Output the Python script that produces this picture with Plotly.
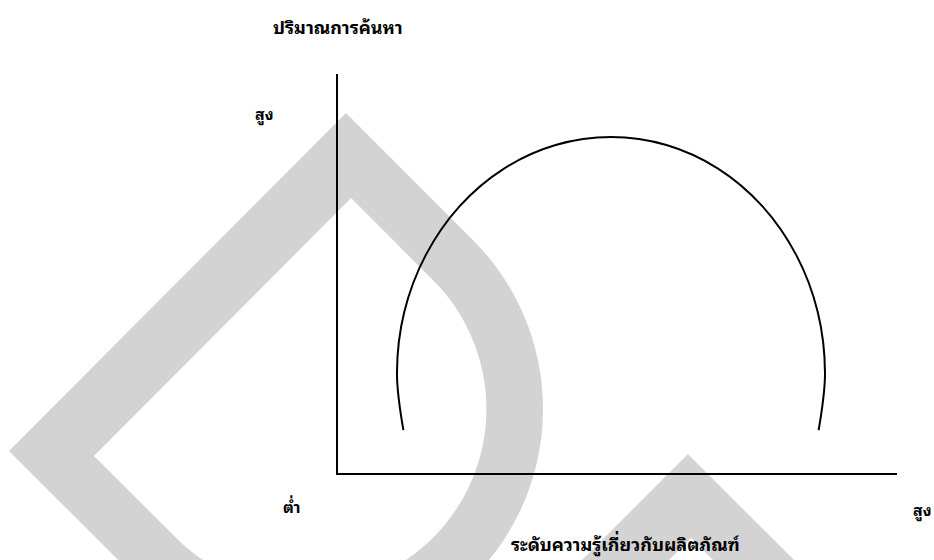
import numpy as np
import plotly.graph_objects as go

# search effort curve (axis units 0-100)
knowledge = [11.7, 10.55, 11.86, 15.69, 21.77, 29.7, 38.93, 48.84, 58.75, 67.98, 75.9, 81.99, 85.81, 87.12, 85.98]
search = [10.75, 25.06, 40.4, 54.6, 66.9, 76.3, 82.2, 84.2, 82.2, 76.3, 66.9, 54.6, 40.4, 25.06, 10.75]

y_title = "ปริมาณการค้นหา"
x_title = "ระดับความรู้เกี่ยวกับผลิตภัณฑ์"
high_label = "สูง"
low_label = "ต่ำ"

W, H = 934, 560
L, R, T, B = 338, 897, 74, 473
FONT = "Noto Sans Thai Looped, Loma, Garuda, Norasi, Noto Sans Thai, Tahoma, sans-serif"


def px(x, y):
    # pixel position -> paper coords
    return (x - L) / (R - L), (B - y) / (B - T)


def path_of(points):
    s = ""
    for i, (x, y) in enumerate(points):
        u, v = px(x, y)
        s += ("M" if i == 0 else "L") + "{:.4f},{:.4f} ".format(u, v)
    return s + "Z "


def d_shape(r, apex, corner, cx=304.4, cy=408.9):
    a = np.radians(np.linspace(-45, 135, 60))
    arc = [(cx + r * np.cos(t), cy + r * np.sin(t)) for t in a]
    return [apex] + arc + [corner]


# background watermark
outer = d_shape(238.6, (346, 113), (9, 451))
inner = d_shape(182, (351, 198), (94, 456))
drop = path_of(outer) + path_of(inner)
chevron = path_of([(688, 454), (838, 604), (538, 604)]) + path_of([(691, 538), (761, 608), (621, 608)])

fig = go.Figure()
fig.add_trace(go.Scatter(x=knowledge, y=search, mode="lines",
                         line=dict(color="black", width=2, shape="spline", smoothing=1.0),
                         hoverinfo="skip", showlegend=False))

for p in (drop, chevron):
    fig.add_shape(type="path", path=p, xref="paper", yref="paper", layer="below",
                  fillcolor="#d3d3d3", fillrule="evenodd", line=dict(width=0))

labels = [(y_title, 338, 26, 18), (high_label, 264, 113, 16), (low_label, 291, 506, 16),
          (high_label, 922, 509, 16), (x_title, 625, 543, 18)]
for txt, x, y, size in labels:
    u, v = px(x, y)
    fig.add_annotation(text="<b>" + txt + "</b>", x=u, y=v, xref="paper", yref="paper",
                       xanchor="center", yanchor="middle", showarrow=False,
                       font=dict(size=size, color="black", family=FONT))

fig.update_xaxes(range=[0, 100], showline=True, linecolor="black", linewidth=2,
                 showgrid=False, zeroline=False, showticklabels=False, ticks="")
fig.update_yaxes(range=[0, 100], showline=True, linecolor="black", linewidth=2,
                 showgrid=False, zeroline=False, showticklabels=False, ticks="")
fig.update_layout(width=W, height=H, margin=dict(l=L, r=W - R, t=T, b=H - B),
                  plot_bgcolor="white", paper_bgcolor="white", font=dict(family=FONT))

# drop the default page margin so the figure fills the window
fig.write_html("out.html", config={"displayModeBar": False},
               post_script="document.body.style.margin='0';document.body.style.overflow='hidden';")
